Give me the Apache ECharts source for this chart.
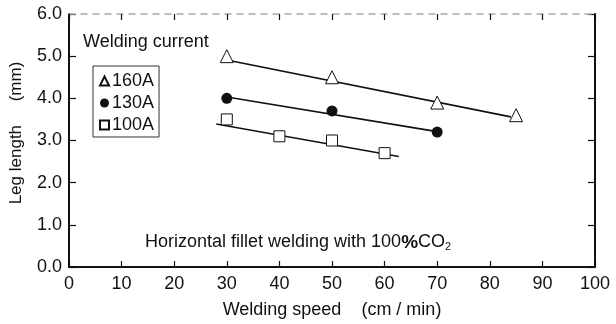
<!DOCTYPE html>
<html>
<head>
<meta charset="utf-8">
<script src="https://cdn.jsdelivr.net/npm/echarts@6/dist/echarts.min.js"></script>
<style>
  html, body { margin: 0; padding: 0; background: #fff; }
  #wrap { position: relative; width: 616px; height: 324px; }
  .layer { position: absolute; left: 0; top: 0; width: 616px; height: 324px; }
  .overlay { pointer-events: none; }
</style>
</head>
<body>
<div id="wrap">
  <div id="chart" class="layer"></div>
  <div id="frame" class="layer overlay"></div>
  <div id="topEdge" class="layer overlay"></div>
</div>
<script>
// Measured leg length vs. welding speed for three welding currents
const currentNames = ['160A', '130A', '100A'];
const speed160 = [30, 50, 70, 85];
const leg160 = [5.0, 4.5, 3.9, 3.6];
const speed130 = [30, 50, 70];
const leg130 = [4.0, 3.7, 3.2];
const speed100 = [30, 40, 50, 60];
const leg100 = [3.5, 3.1, 3.0, 2.7];

// Trend line end points for each current
const trendX160 = [30, 84];
const trendY160 = [4.91, 3.56];
const trendX130 = [30, 70];
const trendY130 = [4.03, 3.21];
const trendX100 = [28, 62.7];
const trendY100 = [3.39, 2.62];

// Axis ticks
const xTicks = [0, 10, 20, 30, 40, 50, 60, 70, 80, 90, 100];
const yTicks = [0.0, 1.0, 2.0, 3.0, 4.0, 5.0, 6.0];

const FONT = '"Liberation Sans", Arial, Helvetica, sans-serif';
const INK = '#111';
const GRID = { left: 69, right: 21, top: 14, bottom: 57 };

const zip = (xs, ys) => xs.map((x, i) => [x, ys[i]]);

const xRange = () => ({
  type: 'value',
  min: xTicks[0],
  max: xTicks[xTicks.length - 1],
  interval: xTicks[1] - xTicks[0],
  splitLine: { show: false }
});
const yRange = () => ({
  type: 'value',
  min: yTicks[0],
  max: yTicks[yTicks.length - 1],
  interval: yTicks[1] - yTicks[0],
  splitLine: { show: false }
});
const tickIn = (len) => ({ show: true, inside: true, length: len, lineStyle: { color: INK, width: 1.2 } });

// Layer 1: data marks, legend and annotations (axes carry the scales only)
const chart = echarts.init(document.getElementById('chart'));
chart.setOption({
  animation: false,
  grid: Object.assign({}, GRID),
  legend: {
    data: currentNames,
    orient: 'vertical',
    left: 93,
    top: 66,
    padding: [6, 5, 3, 6],
    itemGap: 4,
    itemWidth: 9,
    itemHeight: 9,
    borderColor: '#333',
    borderWidth: 1,
    selectedMode: false,
    textStyle: { fontFamily: FONT, fontSize: 18, color: INK, padding: [0, 0, 0, -2] }
  },
  xAxis: Object.assign(xRange(), { show: false }),
  yAxis: Object.assign(yRange(), { show: false }),
  graphic: [
    {
      // x-axis title
      type: 'text',
      x: 332,
      y: 310,
      style: { text: 'Welding speed    (cm / min)', font: '18px ' + FONT, fill: INK, align: 'center', verticalAlign: 'middle' }
    },
    {
      // y-axis title, reading bottom to top
      type: 'text',
      x: 16,
      y: 133,
      rotation: Math.PI / 2,
      style: { text: 'Leg length     (mm)', font: '17px ' + FONT, fill: INK, align: 'center', verticalAlign: 'middle' }
    },
    {
      type: 'text',
      left: 83,
      top: 33,
      style: { text: 'Welding current', font: '18px ' + FONT, fill: INK }
    },
    {
      type: 'text',
      left: 145,
      top: 233,
      style: {
        text: 'Horizontal fillet welding with 100{pct|%}CO{sub|2}',
        font: '18px ' + FONT,
        fill: INK,
        rich: {
          pct: { fontFamily: FONT, fontSize: 19, fontWeight: 'bold', fill: INK },
          sub: { fontFamily: FONT, fontSize: 11, fill: INK, padding: [9, 0, 0, 0] }
        }
      }
    }
  ],
  series: [
    {
      name: 'trend160', type: 'line', data: zip(trendX160, trendY160),
      showSymbol: false, symbol: 'none', silent: true, z: 2,
      lineStyle: { color: INK, width: 1.6 }
    },
    {
      name: 'trend130', type: 'line', data: zip(trendX130, trendY130),
      showSymbol: false, symbol: 'none', silent: true, z: 2,
      lineStyle: { color: INK, width: 1.6 }
    },
    {
      name: 'trend100', type: 'line', data: zip(trendX100, trendY100),
      showSymbol: false, symbol: 'none', silent: true, z: 2,
      lineStyle: { color: INK, width: 1.6 }
    },
    {
      name: currentNames[0], type: 'scatter', data: zip(speed160, leg160),
      symbol: 'triangle', symbolSize: 13, z: 5,
      itemStyle: { color: '#fff', borderColor: INK, borderWidth: 1, opacity: 1 }
    },
    {
      name: currentNames[1], type: 'scatter', data: zip(speed130, leg130),
      symbol: 'circle', symbolSize: 11, z: 5,
      itemStyle: { color: INK, borderColor: INK, borderWidth: 0, opacity: 1 }
    },
    {
      name: currentNames[2], type: 'scatter', data: zip(speed100, leg100),
      symbol: 'rect', symbolSize: 11, z: 5,
      itemStyle: { color: '#fff', borderColor: INK, borderWidth: 1, opacity: 1 }
    }
  ]
});

// Layer 2: bottom, left and right axes with inward ticks and tick labels
const frame = echarts.init(document.getElementById('frame'));
frame.setOption({
  animation: false,
  grid: Object.assign({}, GRID),
  xAxis: Object.assign(xRange(), {
    axisLine: { show: true, onZero: false, lineStyle: { color: INK, width: 2 } },
    axisTick: tickIn(6),
    axisLabel: { fontFamily: FONT, fontSize: 18, color: INK, margin: 8 }
  }),
  yAxis: [
    Object.assign(yRange(), {
      axisLine: { show: true, onZero: false, lineStyle: { color: INK, width: 2 } },
      axisTick: tickIn(7),
      axisLabel: { fontFamily: FONT, fontSize: 18, color: INK, margin: 7, formatter: v => v.toFixed(1) }
    }),
    Object.assign(yRange(), {
      position: 'right',
      axisLine: { show: true, onZero: false, lineStyle: { color: INK, width: 2 } },
      axisTick: tickIn(7),
      axisLabel: { show: false }
    })
  ]
});

// Layer 3: dashed top edge with inward ticks
const topEdge = echarts.init(document.getElementById('topEdge'));
topEdge.setOption({
  animation: false,
  grid: Object.assign({}, GRID),
  xAxis: Object.assign(xRange(), {
    position: 'top',
    axisLine: { show: true, onZero: false, lineStyle: { color: '#aaa', width: 1.5, type: [6, 6] } },
    axisTick: tickIn(6),
    axisLabel: { show: false }
  }),
  yAxis: Object.assign(yRange(), { show: false })
});
</script>
</body>
</html>
